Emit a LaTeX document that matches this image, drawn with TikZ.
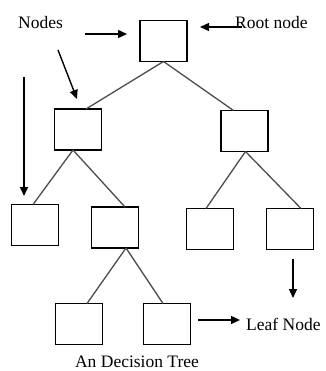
\documentclass[tikz,border=0pt]{standalone}
\usepackage{fontspec}
\setmainfont{Liberation Serif}
\usetikzlibrary{arrows.meta,calc}
\begin{document}
\begin{tikzpicture}[x=1pt,y=-1pt,
  tbox/.style={draw=black,line width=1.6pt,minimum width=47pt,minimum height=41pt,inner sep=0pt,outer sep=0pt},
  edge/.style={draw=black!70,line width=1.3pt},
  callout/.style={draw=black,line width=1.4pt,-{Triangle[length=9pt,width=8pt]}},
  lbl/.style={inner sep=0pt,font=\fontsize{17.5}{20}\selectfont,text=black}]
\useasboundingbox (0,0) rectangle (325,371);
% boxes
\node[tbox] (root) at (163.5,41) {};
\node[tbox] (l2a) at (78,129.5) {};
\node[tbox] (l2b) at (244.5,131) {};
\node[tbox] (l3a) at (35,225) {};
\node[tbox] (l3b) at (115,227.5) {};
\node[tbox] (l3c) at (210,229) {};
\node[tbox] (l3d) at (290,229) {};
\node[tbox] (l4a) at (79,324) {};
\node[tbox] (l4b) at (167,324) {};
% tree edges
\draw[edge] (root.south) -- ($(l2a.north)+(8,0)$);
\draw[edge] (root.south) -- ($(l2b.north)+(-11,0)$);
\draw[edge] ($(l2a.south)+(-5,0)$) -- ($(l3a.north)+(-2,0)$);
\draw[edge] ($(l2a.south)+(-5,0)$) -- ($(l3b.north)+(10,0)$);
\draw[edge] ($(l2b.south)+(1,0)$) -- ($(l3c.north)+(-4,0)$);
\draw[edge] ($(l2b.south)+(1,0)$) -- ($(l3d.north)+(11,0)$);
\draw[edge] ($(l3b.south)+(11,0)$) -- ($(l4a.north)+(8,0)$);
\draw[edge] ($(l3b.south)+(11,0)$) -- ($(l4b.north)+(-4,0)$);
% labels
\node[lbl,anchor=base west] (nodes) at (18,29) {Nodes};
\node[lbl,anchor=base west] (rootlbl) at (235,29) {Root node};
\node[lbl,anchor=base west] (leaflbl) at (246,330) {Leaf Node};
\node[lbl,anchor=base] (caption) at (137,367) {An Decision Tree};
% callout arrows
\coordinate (a1s) at (85,34);
\coordinate (a1e) at (127,34);
\coordinate (a2s) at (242,27);
\coordinate (a2e) at (200,27);
\coordinate (a3s) at (58,50);
\coordinate (a3e) at (77,99);
\coordinate (a4s) at (24,77);
\coordinate (a4e) at (24,196);
\coordinate (a5s) at (293,259);
\coordinate (a5e) at (293,298);
\coordinate (a6s) at (198,320);
\coordinate (a6e) at (240,320);
\draw[callout] (a1s) -- (a1e);
\draw[callout] (a2s) -- (a2e);
\draw[callout] (a3s) -- (a3e);
\draw[callout] (a4s) -- (a4e);
\draw[callout] (a5s) -- (a5e);
\draw[callout] (a6s) -- (a6e);
\end{tikzpicture}
\end{document}
